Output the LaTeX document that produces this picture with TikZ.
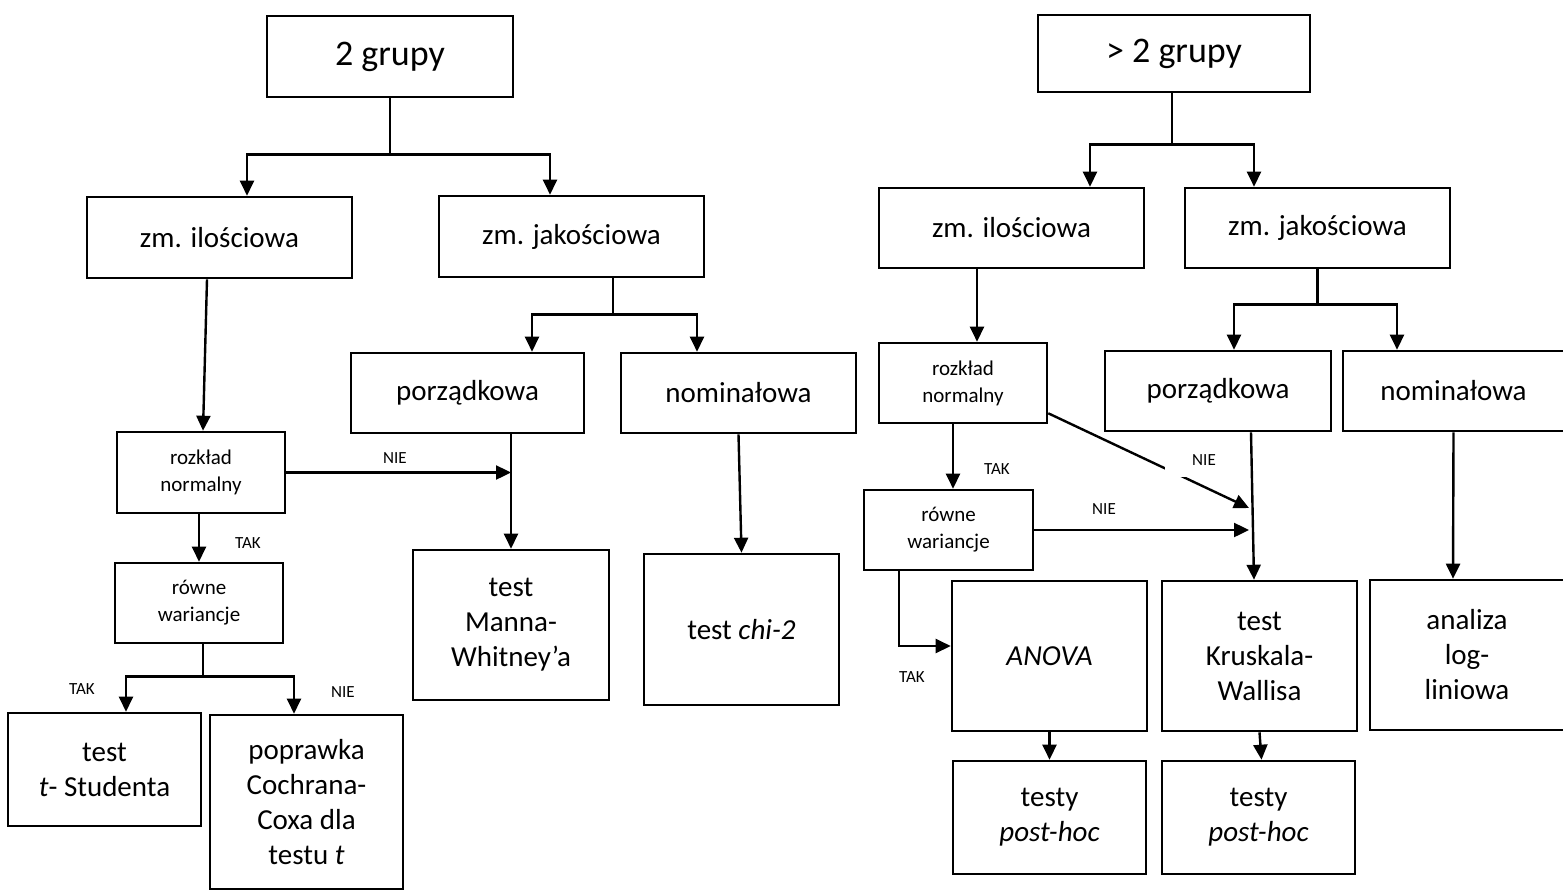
\documentclass[tikz,border=0pt]{standalone}
\usepackage{fontspec}
\setmainfont{Carlito}
\usetikzlibrary{arrows.meta,positioning}

\begin{document}
\begin{tikzpicture}[x=1pt,y=-1pt,
	box/.style={draw=black, line width=2.6pt, inner sep=0pt, align=center, font=\fontsize{29}{35}\selectfont},
	smallbox/.style={box, font=\fontsize{21}{27}\selectfont},
	bigbox/.style={box, font=\fontsize{36}{43}\selectfont},
	lbl/.style={inner sep=0pt, font=\fontsize{17}{20}\selectfont},
	arr/.style={line width=2.4pt, -{Triangle[length=15pt,width=14pt]}}]
				\useasboundingbox (0,0) rectangle (1563,891);
				
				%Shape: Rectangle [2 grupy]
				\node[bigbox, minimum width=246, minimum height=81] (g2) at (390,56.5) {2 grupy};
				\node[box, minimum width=265, minimum height=81] (ilosc) at (219.5,237.5) {zm. ilościowa};
				\node[box, minimum width=265, minimum height=81] (jakosc) at (571.5,236.5) {zm. jakościowa};
				\node[box, minimum width=233, minimum height=80] (porz) at (467.5,393) {porządkowa};
				\node[box, minimum width=235, minimum height=80] (nominal) at (738.5,393) {nominałowa};
				\node[smallbox, minimum width=168, minimum height=81] (rozkl) at (201,472.5) {rozkład\\normalny};
				\node[smallbox, minimum width=168, minimum height=80] (rowne) at (199,603) {równe\\wariancje};
				\node[box, minimum width=196, minimum height=150] (mann) at (511,625) {test\\Manna-\\Whitney’a};
				\node[box, minimum width=195, minimum height=151] (chi2) at (741.5,629.5) {test \textit{chi-2}};
				\node[box, minimum width=193, minimum height=113] (ttest) at (104.5,769.5) {test\\\textit{t}- Studenta};
				\node[box, minimum width=193, minimum height=174] (cochran) at (306.5,802) {poprawka\\Cochrana-\\Coxa dla\\testu \textit{t}};
				
				%Shape: Rectangle [> 2 grupy]
				\node[bigbox, minimum width=272, minimum height=77] (g3) at (1174,53.5) {> 2 grupy};
				\node[box, minimum width=265, minimum height=80] (ilosc2) at (1011.5,228) {zm. ilościowa};
				\node[box, minimum width=265, minimum height=80] (jakosc2) at (1317.5,228) {zm. jakościowa};
				\node[smallbox, minimum width=168, minimum height=80] (rozkl2) at (963,383) {rozkład\\normalny};
				\node[box, minimum width=226, minimum height=80] (porz2) at (1218,391) {porządkowa};
				\node[box, minimum width=221, minimum height=80] (nominal2) at (1453.5,391) {nominałowa};
				\node[smallbox, minimum width=169, minimum height=80] (rowne2) at (948.5,530) {równe\\wariancje};
				\node[box, minimum width=195, minimum height=150] (anova) at (1049.5,656) {\textit{ANOVA}};
				\node[box, minimum width=195, minimum height=150] (kruskal) at (1259.5,656) {test\\Kruskala-\\Wallisa};
				\node[box, minimum width=194, minimum height=150] (loglin) at (1467,655) {analiza\\log-\\liniowa};
				\node[box, minimum width=193, minimum height=113] (post1) at (1049.5,817.5) {testy\\\textit{post-hoc}};
				\node[box, minimum width=193, minimum height=113] (post2) at (1258.5,817.5) {testy\\\textit{post-hoc}};
				
				%Straight Lines [left tree]
				\draw[arr] (g2.south) -- ++(0,56) -| ([xshift=27.5]ilosc.north);
				\draw[arr] (g2.south) -- ++(0,56) -| ([xshift=-21.5]jakosc.north);
				\draw[arr] ([xshift=-12.5]ilosc.south) -- ([xshift=2]rozkl.north);
				\draw[arr] (rozkl.east) -- (rozkl.east -| mann.north);
				\draw[arr] ([xshift=43.5]porz.south) -- (mann.north);
				\draw[arr] ([xshift=-2]rozkl.south) -- (rowne.north);
				\draw[arr] ([xshift=4]rowne.south) -- ++(0,32) -| ([xshift=21.5]ttest.north);
				\draw[arr] ([xshift=4]rowne.south) -- ++(0,32) -| ([xshift=-12.5]cochran.north);
				\draw[arr] ([xshift=41.5]jakosc.south) -- ++(0,36) -| ([xshift=64.5]porz.north);
				\draw[arr] ([xshift=41.5]jakosc.south) -- ++(0,36) -| ([xshift=-41.5]nominal.north);
				\draw[arr] (nominal.south) -- (chi2.north);
				
				%Straight Lines [right tree]
				\coordinate (kwnie) at (1249,508);
				\draw[arr] ([xshift=-2]g3.south) -- ++(0,51) -| ([xshift=78.5]ilosc2.north);
				\draw[arr] ([xshift=-2]g3.south) -- ++(0,51) -| ([xshift=-63.5]jakosc2.north);
				\draw[arr] ([xshift=-34.5]ilosc2.south) -- ([xshift=14]rozkl2.north);
				\draw[arr] ([xshift=-10]rozkl2.south) -- ([xshift=4.5]rowne2.north);
				\draw[arr] ([yshift=11]rozkl2.south east) -- (kwnie);
				\draw[arr] (rowne2.east) -- (rowne2.east -| kwnie);
				\draw[arr] ([xshift=-49.5]rowne2.south) |- ([yshift=10]anova.west);
				\draw[arr] ([xshift=33]porz2.south) -- ([xshift=-5.5]kruskal.north);
				\draw[arr] (jakosc2.south) -- ++(0,35) -| ([xshift=16]porz2.north);
				\draw[arr] (jakosc2.south) -- ++(0,35) -| ([xshift=-56.5]nominal2.north);
				\draw[arr] (nominal2.south) -- ([xshift=-14]loglin.north);
				\draw[arr] (anova.south) -- (post1.north);
				\draw[arr] (kruskal.south) -- ([xshift=3]post2.north);
				
				% Text Node
				\node[lbl] (nie1) at (395,458) {NIE};
				\node[lbl] (tak1) at (248,543) {TAK};
				\node[lbl] (tak2) at (82,689) {TAK};
				\node[lbl] (nie2) at (343,692) {NIE};
				\node[lbl] (tak3) at (997,469) {TAK};
				\node[lbl, fill=white, minimum width=78, minimum height=34] (nie3) at (1204,460) {NIE};
				\node[lbl] (nie4) at (1104,509) {NIE};
				\node[lbl] (tak4) at (912,677) {TAK};
				
			\end{tikzpicture}
\end{document}
